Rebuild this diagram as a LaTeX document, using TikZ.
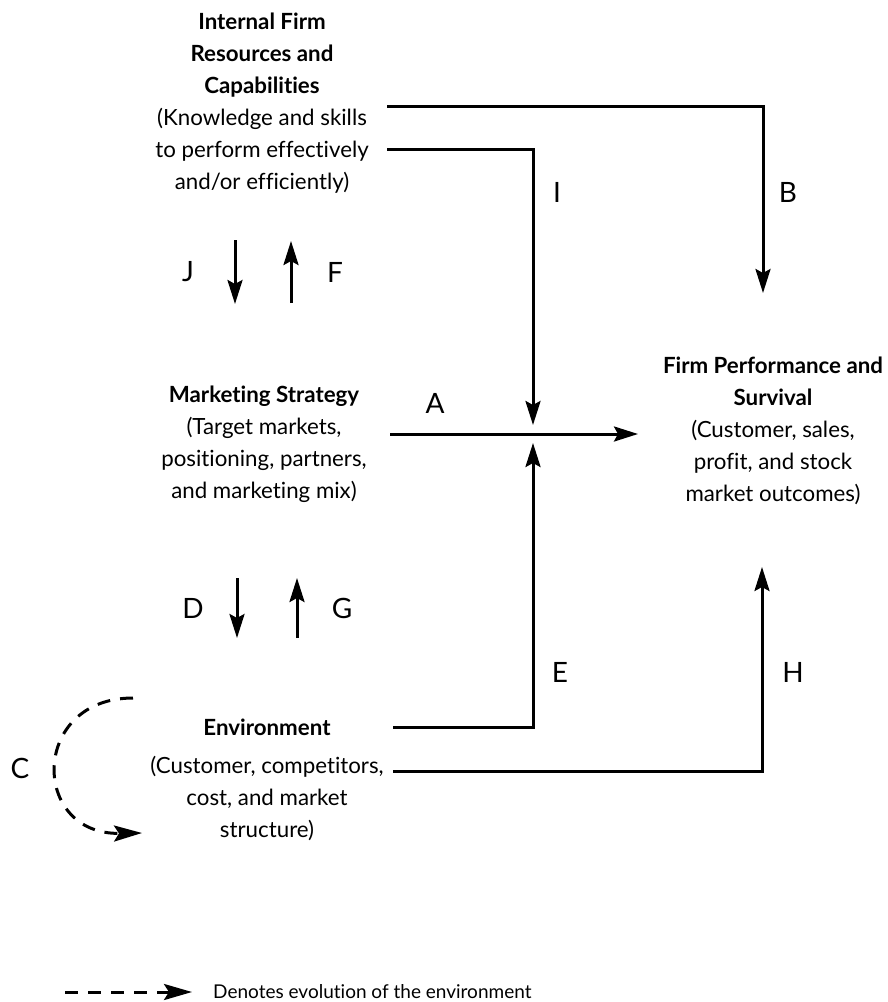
\documentclass[tikz,border=0pt]{standalone}
\usepackage{fontspec}
\setmainfont{Lato}[Ligatures=NoCommon]
\usetikzlibrary{arrows.meta}
\newcommand{\bodysize}{\fontsize{22.3}{32}\selectfont}
\newcommand{\tagsize}{\fontsize{28}{32}\selectfont}
\newcommand{\notesize}{\fontsize{19}{24}\selectfont}

\begin{document}
\begin{tikzpicture}[x=1pt,y=1pt,yscale=-1,xscale=1,
	flow/.style={line width=3pt,-{Stealth[length=24pt,width=15pt,inset=4pt]}},
	evol/.style={line width=3pt,dash pattern=on 13pt off 10pt,-{Stealth[length=28pt,width=16pt,inset=5pt]}},
	block/.style={align=center,font=\bodysize,inner sep=0pt},
	tag/.style={font=\tagsize,inner sep=0pt}]
	\useasboundingbox (0,0) rectangle (888,1002);

	% Text Node
	\node[block] (res) at (262,103) {\textbf{Internal Firm}\\\textbf{Resources and}\\\textbf{Capabilities}\\(Knowledge and skills\\to perform effectively\\and/or efficiently)};
	% Text Node
	\node[block] (mkt) at (264,444) {\textbf{Marketing Strategy}\\(Target markets,\\positioning, partners,\\and marketing mix)};
	% Text Node
	\node[block] (perf) at (773,431) {\textbf{Firm Performance and}\\\textbf{Survival}\\(Customer, sales,\\profit, and stock\\market outcomes)};
	% Text Node
	\node[block] (env) at (267,780) {\textbf{Environment}\\[6pt](Customer, competitors,\\cost, and market\\structure)};

	%Connector ends
	\coordinate (resB) at (387,106);
	\coordinate (resI) at (387,149);
	\coordinate (mktA) at (390,434);
	\coordinate (envE) at (393,727);
	\coordinate (envH) at (393,771);
	\coordinate (perfB) at (763,293);
	\coordinate (perfA) at (638,434);
	\coordinate (perfH) at (762,567);
	\coordinate (crossI) at (533,425);
	\coordinate (crossE) at (533,443);
	\coordinate (jtop) at (235,240);
	\coordinate (jbot) at (235,304);
	\coordinate (ftop) at (291,241);
	\coordinate (fbot) at (291,303);
	\coordinate (dtop) at (237,578);
	\coordinate (dbot) at (237,638);
	\coordinate (gtop) at (297,578);
	\coordinate (gbot) at (297,638);
	\coordinate (ctop) at (133,698);
	\coordinate (cend) at (142,833);
	\coordinate (legs) at (65,992);
	\coordinate (lege) at (192,992);

	%Straight Lines
	\draw[flow] (resB) -| (perfB);
	\draw[flow] (resI) -| (crossI);
	\draw[flow] (mktA) -- (perfA);
	\draw[flow] (envE) -| (crossE);
	\draw[flow] (envH) -| (perfH);
	\draw[flow] (jtop) -- (jbot);
	\draw[flow] (fbot) -- (ftop);
	\draw[flow] (dtop) -- (dbot);
	\draw[flow] (gbot) -- (gtop);
	%Curve Lines
	\draw[evol] (ctop) .. controls (30,698) and (30,835) .. (cend);
	\draw[evol] (legs) -- (lege);

	% Text Node
	\node[tag] (tJ) at (188,272) {J};
	\node[tag] (tF) at (335,272) {F};
	\node[tag] (tI) at (557,192) {I};
	\node[tag] (tB) at (788,192) {B};
	\node[tag] (tA) at (435,403) {A};
	\node[tag] (tD) at (193,608) {D};
	\node[tag] (tG) at (342,608) {G};
	\node[tag] (tE) at (560,672) {E};
	\node[tag] (tH) at (793,672) {H};
	\node[tag] (tC) at (20,768) {C};
	% Text Node
	\node[font=\notesize,anchor=west,inner sep=0pt] (note) at (213,992) {Denotes evolution of the environment};

\end{tikzpicture}
\end{document}
